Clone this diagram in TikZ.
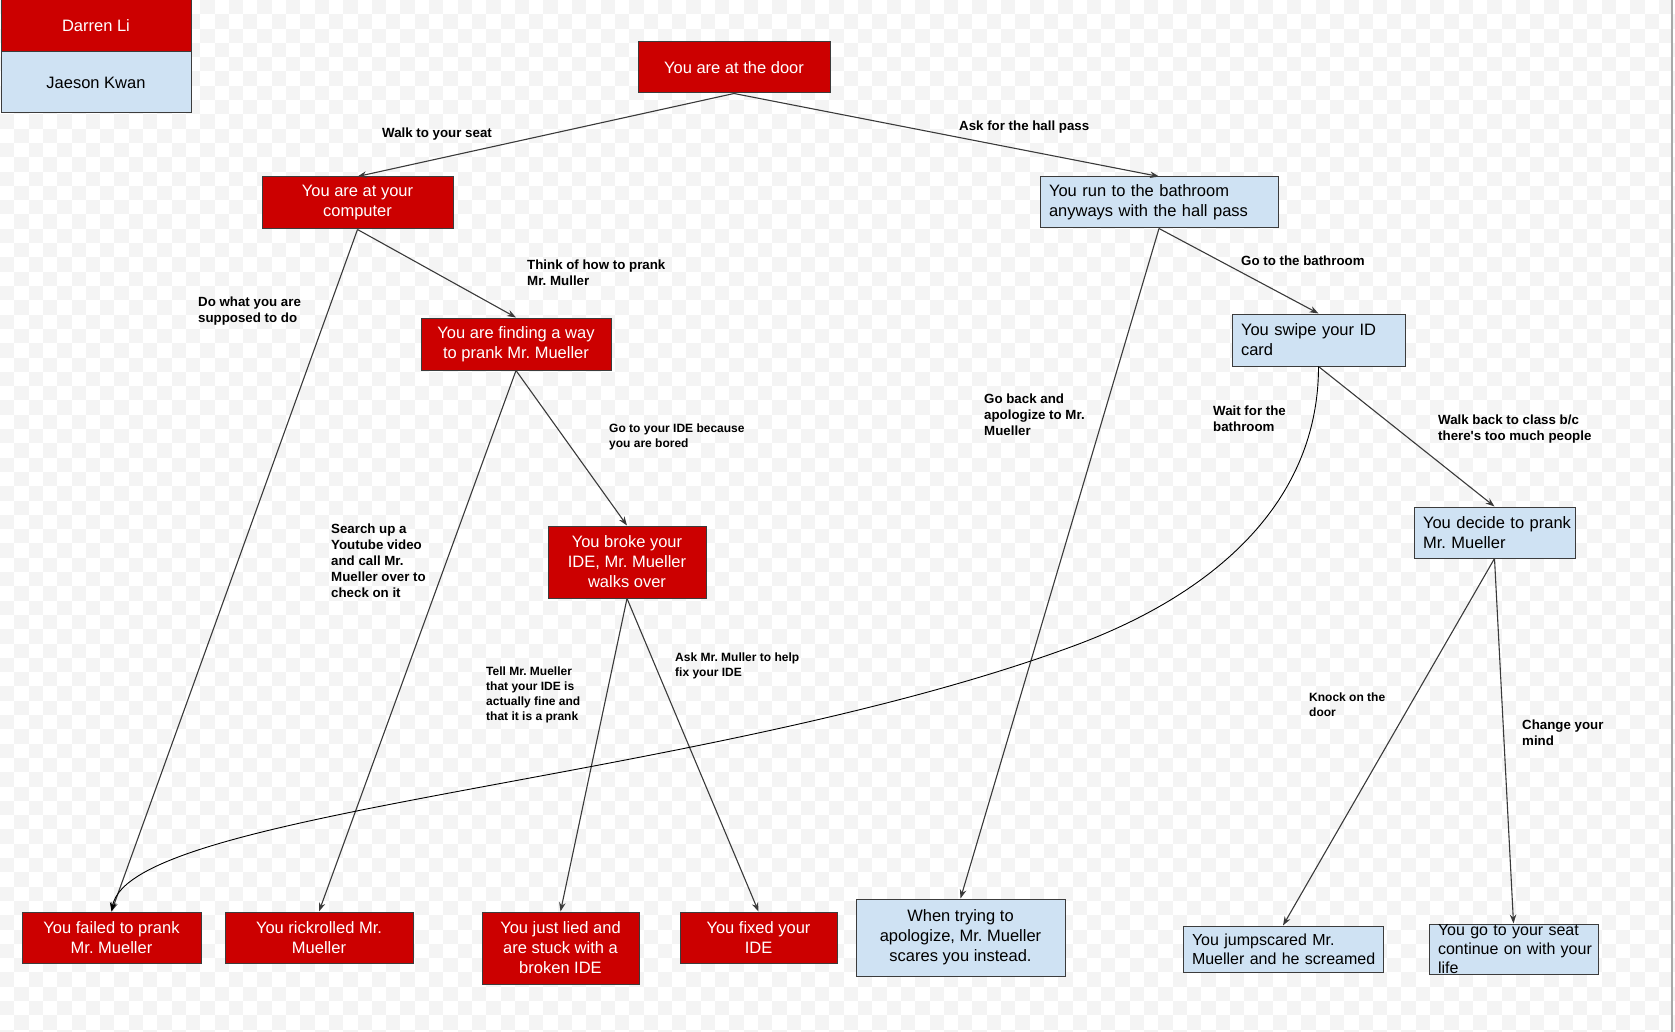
\documentclass[tikz,border=0pt]{standalone}
\usepackage{fontspec}
\setmainfont{Liberation Sans}
\usetikzlibrary{arrows.meta}
\frenchspacing

\definecolor{boxred}{HTML}{CC0000}
\definecolor{boxblue}{HTML}{CFE2F3}
\definecolor{edgegray}{HTML}{3A3A3A}
\definecolor{framegray}{HTML}{3C3C3C}
\definecolor{checker}{HTML}{F4F4F4}
\definecolor{pageedge}{HTML}{A8A8A8}

% one unbreakable line of box text
\newcommand{\ltxt}[1]{\mbox{#1}}

\tikzset{
  box/.style={draw=framegray, line width=1pt, inner sep=0pt,
    font=\fontsize{16.5}{20}\selectfont},
  redbox/.style={box, fill=boxred, text=white, align=center},
  bluebox/.style={box, fill=boxblue, text=black, align=center},
  leftblue/.style={box, fill=boxblue, text=black, align=left, inner xsep=9pt},
  lbl/.style={anchor=west, align=left, inner sep=0pt,
    font=\bfseries\fontsize{13.3}{16}\selectfont},
  lblsmall/.style={anchor=west, align=left, inner sep=0pt,
    font=\bfseries\fontsize{12}{14.8}\selectfont},
  link/.style={draw=edgegray, line width=1.1pt,
    -{Stealth[length=9pt,width=6.5pt]}},
  curvelink/.style={draw=black, line width=0.9pt,
    -{Stealth[length=9pt,width=6.5pt]}},
}

\begin{document}
\begin{tikzpicture}[x=1pt, y=-1pt]
  \useasboundingbox (0,0) rectangle (1675,1032);
  \fill[white] (0,0) rectangle (1675,1032);

  % faint canvas grid
  \foreach \i in {0,...,58} {
    \foreach \j in {0,...,36} {
      \fill[checker] ({\i*28.6},{\j*28.6}) rectangle ++(14.3,14.3);
      \fill[checker] ({\i*28.6+14.3},{\j*28.6+14.3}) rectangle ++(14.3,14.3);
    }
  }
  \draw[pageedge, line width=2pt] (1672,0) -- (1672,1032);

  % legend
  \node[redbox, minimum width=190pt, minimum height=52pt] (darren) at (96,26) {Darren Li};
  \node[bluebox, minimum width=190pt, minimum height=61pt] (jaeson) at (96,82.5) {Jaeson Kwan};

  % story nodes
  \node[redbox, minimum width=192pt, minimum height=51pt] (door) at (734,67.5) {You are at the door};
  \node[redbox, minimum width=191pt, minimum height=52pt] (computer) at (357.5,203) {You are at your\\computer};
  \node[leftblue, minimum width=238pt, minimum height=51pt, text width=220pt] (bathroom) at (1159,202.5)
    {\ltxt{You run to the bathroom}\\\ltxt{anyways with the hall pass}};
  \node[redbox, minimum width=190pt, minimum height=52pt] (finding) at (516,344) {You are finding a way\\to prank Mr. Mueller};
  \node[leftblue, minimum width=173pt, minimum height=52pt, text width=155pt] (swipe) at (1318.5,340)
    {\ltxt{You swipe your ID}\\\ltxt{card}};
  \node[redbox, minimum width=158pt, minimum height=72pt] (broke) at (627,562) {You broke your\\IDE, Mr. Mueller\\walks over};
  \node[leftblue, minimum width=161pt, minimum height=51pt, text width=143pt] (decide) at (1494.5,532.5)
    {\ltxt{You decide to prank}\\\ltxt{Mr. Mueller}};

  % endings
  \node[redbox, minimum width=179pt, minimum height=51pt] (failed) at (111.5,937.5) {You failed to prank\\Mr. Mueller};
  \node[redbox, minimum width=188pt, minimum height=51pt] (rickroll) at (319,937.5) {You rickrolled Mr.\\Mueller};
  \node[redbox, minimum width=157pt, minimum height=72pt] (lied) at (560.5,948) {You just lied and\\are stuck with a\\broken IDE};
  \node[redbox, minimum width=157pt, minimum height=51pt] (fixed) at (758.5,937.5) {You fixed your\\IDE};
  \node[bluebox, minimum width=209pt, minimum height=77pt] (trying) at (960.5,937.5) {When trying to\\apologize, Mr. Mueller\\scares you instead.};
  \node[leftblue, minimum width=200pt, minimum height=46pt, text width=182pt,
        font=\fontsize{16}{19}\selectfont] (jumpscared) at (1283,949)
    {\ltxt{You jumpscared Mr.}\\\ltxt{Mueller and he screamed}};
  \node[leftblue, minimum width=169pt, minimum height=50pt, text width=151pt,
        font=\fontsize{16}{19}\selectfont] (seat) at (1513.5,949)
    {\ltxt{You go to your seat}\\\ltxt{continue on with your}\\\ltxt{life}};

  % connectors
  \draw[link] (door.south) -- (computer.north);
  \draw[link] (door.south) -- (bathroom.north);
  \draw[link] (computer.south) -- (finding.north);
  \draw[link] (computer.south) -- (failed.north);
  \draw[link] (finding.south) -- (broke.north);
  \draw[link] (finding.south) -- (rickroll.north);
  \draw[link] (broke.south) -- (lied.north);
  \draw[link] (broke.south) -- (fixed.north);
  \draw[link] (bathroom.south) -- (trying.north);
  \draw[link] (bathroom.south) -- (swipe.north);
  \draw[link] (swipe.south) -- (decide.north);
  \draw[link] (decide.south) -- (jumpscared.north);
  \draw[link] (decide.south) -- (seat.north);
  \coordinate (bend) at (1068,648);
  \draw[curvelink] (swipe.south) .. controls (1318.5,500) and (1218,594) .. (bend)
                   .. controls (700,782) and (130,810) .. (failed.north);

  % connector labels
  \node[lbl] (lwalk) at (382,134) {Walk to your seat};
  \node[lbl] (lask) at (959,127) {Ask for the hall pass};
  \node[lbl] (lthink) at (527,273) {Think of how to prank\\Mr. Muller};
  \node[lbl] (ldo) at (198,311) {Do what you are\\supposed to do};
  \node[lbl] (lgobath) at (1241,261) {Go to the bathroom};
  \node[lbl] (lgoback) at (984,415) {Go back and\\apologize to Mr.\\Mueller};
  \node[lbl] (lwait) at (1213,419) {Wait for the\\bathroom};
  \node[lbl] (lwalkback) at (1438,429) {Walk back to class b/c\\there\textquotesingle s too much people};
  \node[lblsmall] (lide) at (609,437) {Go to your IDE because\\you are bored};
  \node[lbl] (lsearch) at (331,561) {Search up a\\Youtube video\\and call Mr.\\Mueller over to\\check on it};
  \node[lblsmall] (ltell) at (486,695) {Tell Mr. Mueller\\that your IDE is\\actually fine and\\that it is a prank};
  \node[lblsmall] (laskm) at (675,666) {Ask Mr. Muller to help\\fix your IDE};
  \node[lblsmall] (lknock) at (1309,705) {Knock on the\\door};
  \node[lbl] (lchange) at (1522,733) {Change your\\mind};
\end{tikzpicture}
\end{document}
